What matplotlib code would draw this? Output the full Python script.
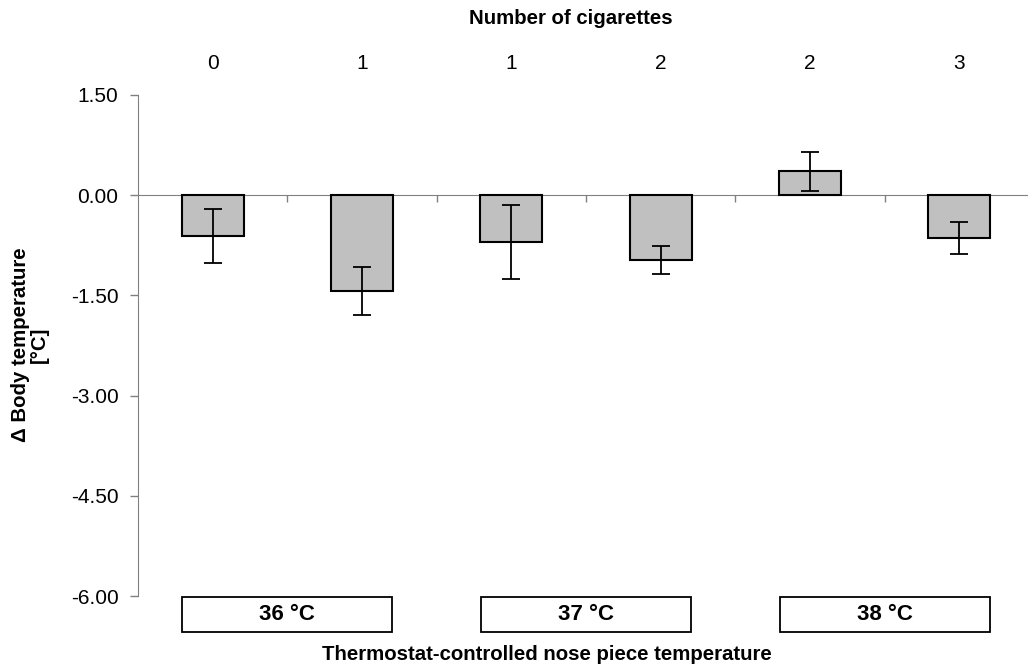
import matplotlib
matplotlib.use("Agg")
import matplotlib.pyplot as plt
from matplotlib.patches import Rectangle
import numpy as np

plt.rcParams['font.family'] = ['Liberation Sans', 'DejaVu Sans']
plt.rcParams['axes.unicode_minus'] = False

# data: change in body temperature per group
cigarettes = ['0', '1', '1', '2', '2', '3']
delta_temp = [-0.61, -1.44, -0.70, -0.97, 0.36, -0.64]
sem = [0.40, 0.36, 0.55, 0.21, 0.29, 0.24]
nose_temps = ['36 °C', '37 °C', '38 °C']
yticks = [1.5, 0.0, -1.5, -3.0, -4.5, -6.0]

fig = plt.figure(figsize=(10.28, 6.67), dpi=100)
ax = fig.add_axes([138/1028, 71/667, 896/1028, 501/667])

x = np.arange(len(delta_temp))
ax.bar(x, delta_temp, width=0.415, color='#C0C0C0', edgecolor='black',
       linewidth=1.5, zorder=3)
ax.errorbar(x, delta_temp, yerr=sem, fmt='none', ecolor='black',
            elinewidth=1.3, capsize=6.5, capthick=1.3, zorder=4)

ax.set_xlim(-0.5, len(x) - 0.5)
ax.set_ylim(-6, 1.5)
ax.set_yticks(yticks)
ax.set_yticklabels([f'{v:.2f}' for v in yticks], fontsize=15)
ax.tick_params(axis='y', length=6, color='#808080', width=1, pad=8)

# bottom spine sits on zero with little ticks between groups
for s in ['top', 'right']:
    ax.spines[s].set_visible(False)
ax.spines['left'].set_color('#808080')
ax.spines['bottom'].set_position(('data', 0))
ax.spines['bottom'].set_color('#808080')
ax.spines['bottom'].set_zorder(2)
ax.set_xticks(np.arange(0.5, len(x) - 0.5, 1))
ax.set_xticklabels([])
ax.tick_params(axis='x', length=5, color='#808080', width=1, direction='out')

# cigarette counts along the top
top = ax.secondary_xaxis('top')
top.set_xticks(x)
top.set_xticklabels(cigarettes, fontsize=15)
top.tick_params(length=0, pad=16)
top.spines['top'].set_visible(False)
fig.text(571/1028, 1 - 19/667, 'Number of cigarettes', ha='center',
         va='center', fontsize=14.7, fontweight='bold')

# nose piece temperature boxes
trans = ax.get_xaxis_transform()
for i, label in enumerate(nose_temps):
    cx = 2 * i + 0.5
    ax.add_patch(Rectangle((cx - 0.703, -0.072), 1.406, 0.070, transform=trans,
                           fc='white', ec='black', lw=1.3, clip_on=False))
    ax.text(cx, -0.037, label, transform=trans, ha='center', va='center',
            fontsize=16, fontweight='bold', clip_on=False)

fig.text(547/1028, 1 - 655/667, 'Thermostat-controlled nose piece temperature',
         ha='center', va='center', fontsize=14.7, fontweight='bold')
fig.text(30/1028, 1 - 345/667, '\u0394 Body temperature\n[°C]', ha='center',
         va='center', rotation=90, fontsize=14.7, fontweight='bold',
         multialignment='center', linespacing=0.95)

fig.savefig('out.png', dpi=100)
